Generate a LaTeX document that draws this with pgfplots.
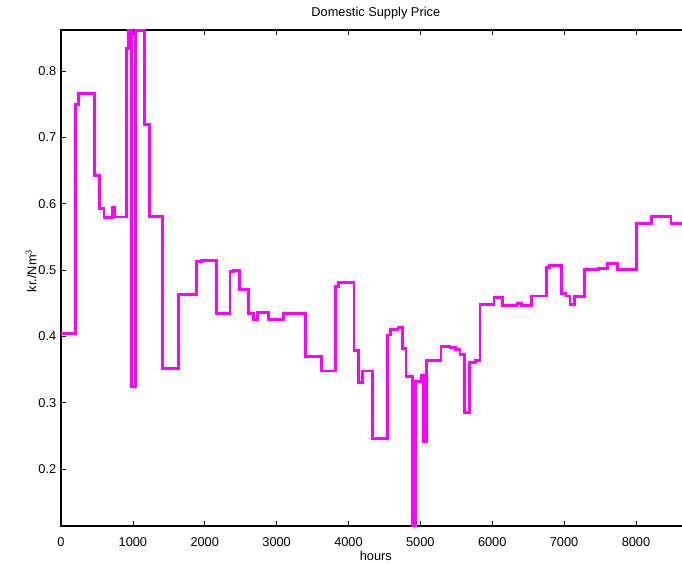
\documentclass[border=0pt]{standalone}
\usepackage{pgfplots}
\pgfplotsset{compat=1.18}
\usepackage{fontspec}
\setmainfont{Liberation Sans}
\definecolor{mag}{RGB}{255,0,255}
\begin{document}
\begin{tikzpicture}
\begin{axis}[
  name=ax,
  scale only axis,
  width=472.2pt, height=372pt,
  xmin=0, xmax=8760, ymin=0.114, ymax=0.862,
  xtick={0,1000,...,8000},
  ytick={0.2,0.3,...,0.8},
  scaled x ticks=false, scaled y ticks=false,
  /pgf/number format/assume math mode=true,
  xticklabel style={/pgf/number format/1000 sep={}, yshift=-5pt},
  yticklabel style={/pgf/number format/fixed,/pgf/number format/precision=1},
  tick align=inside,
  major tick length=3.75pt,
  tick style={black, line width=0.5pt},
  axis line style={black, line width=0.8pt},
  font=\fontsize{9.6}{11}\selectfont,
  every axis title/.style={at={(axis description cs:0.5,1)}, anchor=center, yshift=12.5pt},
  every axis x label/.style={at={(axis description cs:0.5,0)}, anchor=center, yshift=-22.5pt},
  every axis y label/.style={at={(axis description cs:0,0.5)}, rotate=90, anchor=center, yshift=22.5pt, xshift=5.5pt},
  title={Domestic Supply Price},
  xlabel={hours},
  ylabel={kr./Nm$^3$},
  clip=true,
]
\addplot[const plot, mag, line width=2.2pt] coordinates {
(0,0.4045)
(205,0.749)
(241,0.766)
(463,0.642)
(533,0.593)
(598,0.5795)
(714,0.594)
(742,0.58)
(914,0.834)
(944,1.0)
(985,0.324)
(1035,0.861)
(1159,0.72)
(1228,0.5803)
(1409,0.352)
(1632,0.4633)
(1882,0.5135)
(1957,0.515)
(2166,0.4347)
(2351,0.4985)
(2397,0.50)
(2481,0.471)
(2612,0.4347)
(2675,0.425)
(2737,0.436)
(2884,0.425)
(3093,0.435)
(3405,0.3693)
(3627,0.3477)
(3816,0.4758)
(3858,0.4814)
(4077,0.378)
(4136,0.330)
(4192,0.3477)
(4337,0.2462)
(4545,0.402)
(4587,0.411)
(4689,0.413)
(4754,0.381)
(4800,0.340)
(4886,0.05)
(4932,0.3316)
(5018,0.3417)
(5050,0.241)
(5088,0.3633)
(5287,0.3844)
(5412,0.383)
(5491,0.380)
(5551,0.372)
(5611,0.285)
(5690,0.360)
(5770,0.364)
(5830,0.4475)
(6024,0.459)
(6145,0.447)
(6344,0.4495)
(6410,0.447)
(6549,0.4608)
(6758,0.5035)
(6803,0.5075)
(6966,0.4648)
(7026,0.4608)
(7082,0.4487)
(7142,0.4598)
(7290,0.501)
(7475,0.5025)
(7608,0.510)
(7740,0.5015)
(8010,0.5704)
(8218,0.5803)
(8487,0.5704)
(8760,0.5704)
};
\end{axis}
\pgfresetboundingbox
\path[use as bounding box] ([xshift=-45.75pt,yshift=-28.5pt]ax.south west) rectangle ([xshift=465.75pt,yshift=22.5pt]ax.north west);
\end{tikzpicture}
\end{document}
